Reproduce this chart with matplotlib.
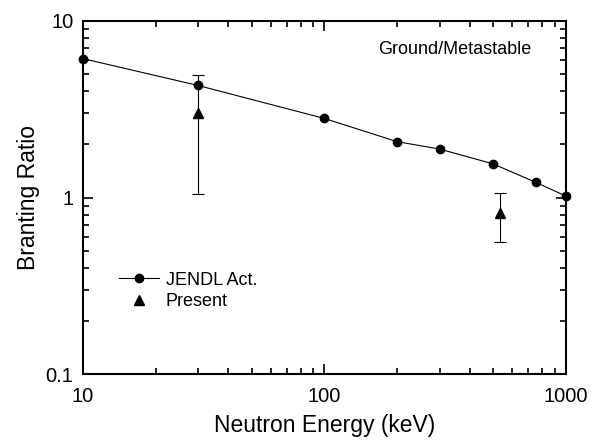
import numpy as np
import matplotlib
matplotlib.use("Agg")
import matplotlib.pyplot as plt
from matplotlib.ticker import LogLocator, NullFormatter, FixedLocator, FixedFormatter

plt.rcParams['font.family'] = ['Liberation Sans', 'DejaVu Sans']

# JENDL Act. evaluation
jendl_energy = [10, 30, 100, 200, 300, 500, 750, 1000]
jendl_ratio = [6.1, 4.3, 2.8, 2.07, 1.88, 1.55, 1.22, 1.02]

# present measurement
present_energy = [30, 533]
present_ratio = [3.0, 0.82]
present_err_lo = [1.95, 0.26]
present_err_hi = [1.9, 0.24]

fig = plt.figure(figsize=(5.99, 4.43), dpi=100)
ax = fig.add_axes([0.1386, 0.155, 0.8058, 0.7983])

ax.plot(jendl_energy, jendl_ratio, '-', color='black', lw=0.8,
        marker='o', ms=6, label='JENDL Act.', clip_on=False, zorder=3)
ax.errorbar(present_energy, present_ratio, yerr=[present_err_lo, present_err_hi],
            fmt='none', ecolor='black', elinewidth=0.8, capsize=4,
            capthick=0.8, zorder=2)
ax.plot(present_energy, present_ratio, '^', color='black', ms=6.5,
        label='Present', zorder=3)

ax.set_xscale('log')
ax.set_yscale('log')
ax.set_xlim(10, 1000)
ax.set_ylim(0.1, 10)

ax.xaxis.set_major_locator(FixedLocator([10, 100, 1000]))
ax.xaxis.set_major_formatter(FixedFormatter(['10', '100', '1000']))
ax.yaxis.set_major_locator(FixedLocator([0.1, 1, 10]))
ax.yaxis.set_major_formatter(FixedFormatter(['0.1', '1', '10']))
ax.xaxis.set_minor_locator(LogLocator(base=10, subs=np.arange(2, 10)))
ax.yaxis.set_minor_locator(LogLocator(base=10, subs=np.arange(2, 10)))
ax.xaxis.set_minor_formatter(NullFormatter())
ax.yaxis.set_minor_formatter(NullFormatter())

ax.tick_params(which='both', direction='in', top=True, right=True, width=1.2)
ax.tick_params(which='major', length=7, labelsize=14.5)
ax.tick_params(axis='x', which='major', pad=9)
ax.tick_params(axis='y', which='major', pad=7)
ax.tick_params(which='minor', length=4)
for s in ax.spines.values():
    s.set_linewidth(1.5)

ax.set_xlabel('Neutron Energy (keV)', fontsize=16.5, labelpad=6)
ax.set_ylabel('Branting Ratio', fontsize=16.5, labelpad=4)

ax.text(0.612, 0.905, 'Ground/Metastable', transform=ax.transAxes, fontsize=13)

ax.legend(loc='upper left', bbox_to_anchor=(0.0746, 0.29), frameon=False,
          fontsize=13, handlelength=2.2, handletextpad=0.4, labelspacing=0.25,
          borderpad=0, borderaxespad=0)

fig.savefig('out.png', dpi=100)
